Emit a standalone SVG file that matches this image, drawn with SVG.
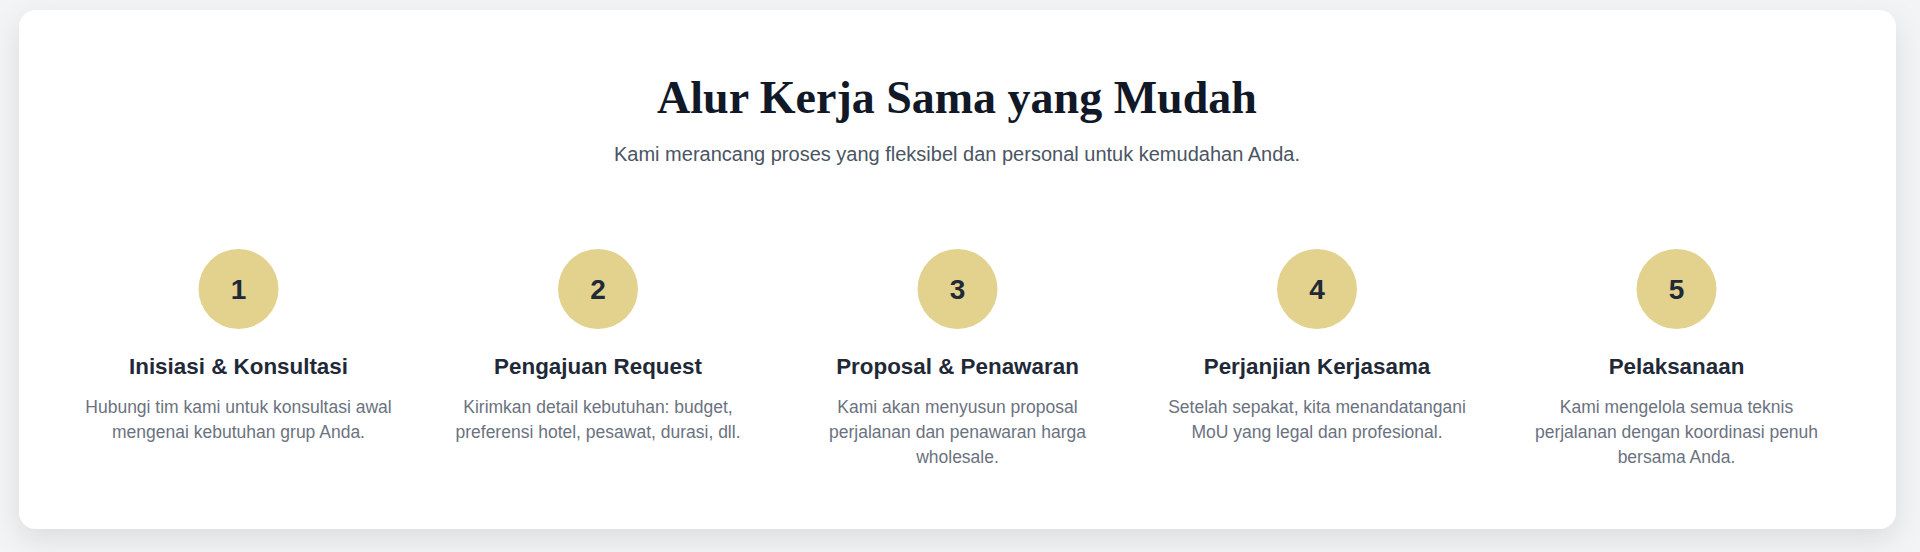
<svg xmlns="http://www.w3.org/2000/svg" width="1920" height="552" viewBox="0 0 1920 552">
<defs>
<filter id="sh" x="-5%" y="-10%" width="110%" height="130%">
<feDropShadow dx="0" dy="10" stdDeviation="14" flood-color="#000" flood-opacity="0.10"/>
</filter>
<style>
.h1{font-family:"Liberation Serif","Times New Roman",serif;font-weight:700;font-size:46px;fill:#111827;text-anchor:middle}
.sub{font-family:"Liberation Sans",Arial,sans-serif;font-size:20px;fill:#4b5563;text-anchor:middle}
.circ{fill:#e3d28d}
.num{font-family:"Liberation Sans",Arial,sans-serif;font-weight:700;font-size:28px;fill:#1f2937;text-anchor:middle}
.st{font-family:"Liberation Sans",Arial,sans-serif;font-weight:700;font-size:22.4px;fill:#1f2937;text-anchor:middle}
.ds{font-family:"Liberation Sans",Arial,sans-serif;font-size:17.5px;fill:#6b7280;text-anchor:middle}
</style>
</defs>
<rect x="0" y="0" width="1920" height="552" fill="#f3f4f6"/>
<rect x="19" y="10" width="1877" height="519" rx="17" fill="#ffffff" filter="url(#sh)"/>
<text class="h1" x="957" y="113">Alur Kerja Sama yang Mudah</text>
<text class="sub" x="957" y="161">Kami merancang proses yang fleksibel dan personal untuk kemudahan Anda.</text>
<g id="connectors"></g>
<g id="step1">
<circle class="circ" cx="238.5" cy="289" r="40"/>
<text class="num" x="238.5" y="299">1</text>
<text class="st" x="238.5" y="374">Inisiasi &amp; Konsultasi</text>
<text class="ds" x="238.5" y="413">Hubungi tim kami untuk konsultasi awal</text>
<text class="ds" x="238.5" y="438">mengenai kebutuhan grup Anda.</text>
</g>
<g id="step2">
<circle class="circ" cx="598" cy="289" r="40"/>
<text class="num" x="598" y="299">2</text>
<text class="st" x="598" y="374">Pengajuan Request</text>
<text class="ds" x="598" y="413">Kirimkan detail kebutuhan: budget,</text>
<text class="ds" x="598" y="438">preferensi hotel, pesawat, durasi, dll.</text>
</g>
<g id="step3">
<circle class="circ" cx="957.5" cy="289" r="40"/>
<text class="num" x="957.5" y="299">3</text>
<text class="st" x="957.5" y="374">Proposal &amp; Penawaran</text>
<text class="ds" x="957.5" y="413">Kami akan menyusun proposal</text>
<text class="ds" x="957.5" y="438">perjalanan dan penawaran harga</text>
<text class="ds" x="957.5" y="463">wholesale.</text>
</g>
<g id="step4">
<circle class="circ" cx="1317" cy="289" r="40"/>
<text class="num" x="1317" y="299">4</text>
<text class="st" x="1317" y="374">Perjanjian Kerjasama</text>
<text class="ds" x="1317" y="413">Setelah sepakat, kita menandatangani</text>
<text class="ds" x="1317" y="438">MoU yang legal dan profesional.</text>
</g>
<g id="step5">
<circle class="circ" cx="1676.5" cy="289" r="40"/>
<text class="num" x="1676.5" y="299">5</text>
<text class="st" x="1676.5" y="374">Pelaksanaan</text>
<text class="ds" x="1676.5" y="413">Kami mengelola semua teknis</text>
<text class="ds" x="1676.5" y="438">perjalanan dengan koordinasi penuh</text>
<text class="ds" x="1676.5" y="463">bersama Anda.</text>
</g>
</svg>
